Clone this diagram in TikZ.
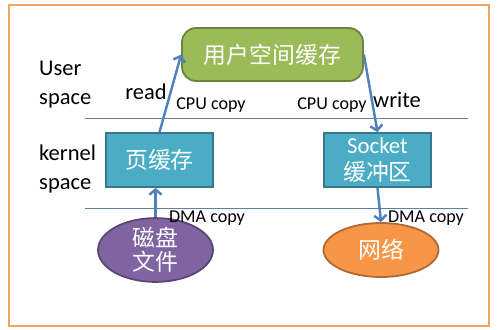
\documentclass[tikz,border=0pt]{standalone}
\usepackage{fontspec}
\setmainfont{Carlito}
\newfontfamily\cjk{Noto Sans CJK SC}
\usetikzlibrary{shapes.geometric,arrows.meta}
\definecolor{frameorange}{RGB}{240,165,96}
\definecolor{usergreen}{RGB}{155,187,89}
\definecolor{kernelteal}{RGB}{75,172,198}
\definecolor{diskpurple}{RGB}{128,100,162}
\definecolor{netorange}{RGB}{247,150,70}
\definecolor{flowblue}{RGB}{79,129,189}
\definecolor{sepline}{RGB}{96,128,160}
\begin{document}
\begin{tikzpicture}[x=0.02cm, y=-0.02cm,
    buf/.style={draw=#1!70!black, fill=#1, line width=1pt, text=white,
        font=\cjk\fontsize{13}{15}\selectfont, align=center, inner sep=0pt,
        minimum width=2.14cm, minimum height=1.08cm},
    dev/.style={buf=#1, ellipse, minimum width=2.3cm, minimum height=1.08cm,
        font=\cjk\fontsize{13}{13.6}\selectfont},
    flow/.style={draw=flowblue, line width=1.4pt, -{Straight Barb[length=3pt,width=7pt]}},
    side/.style={font=\fontsize{12.8}{16.5}\selectfont, align=left, anchor=west},
    op/.style={font=\fontsize{12.8}{15}\selectfont},
    copytag/.style={font=\fontsize{10.3}{12}\selectfont}]
    % Frame
    \useasboundingbox (0,0) rectangle (499,329);
    \draw[frameorange, line width=1.4pt] (9,5) rectangle (489,326);

    % Space boundaries
    \draw[sepline, line width=0.5pt] (85,118) -- (468,118);
    \draw[sepline, line width=0.5pt] (85,208) -- (468,208);
    \node[side] (user) at (33,85) {User\\space};
    \node[side] (kernel) at (33,169) {kernel\\space};

    % Buffers
    \node[buf=usergreen, rounded corners=8pt, minimum width=3.62cm, minimum height=1.06cm] (ucache) at (272.5,54.5) {用户空间缓存};
    \node[buf=kernelteal] (page) at (159.5,160) {页缓存};
    \node[buf=kernelteal] (sock) at (377.5,160) {{\rmfamily Socket}\\缓冲区};

    % Devices
    \node[dev=diskpurple] (disk) at (155.5,250) {磁盘\\文件};
    \node[dev=netorange] (net) at (381,250) {网络};

    % Data path
    \draw[flow] (disk.north) -- (disk.north |- page.south);
    \draw[flow] (page.north) -- (ucache.west);
    \draw[flow] (ucache.east) -- (sock.north);
    \draw[flow] (sock.south) -- (net.north);

    % Labels
    \node[op] (read) at (146,92) {read};
    \node[op] (write) at (397,100) {write};
    \node[copytag] (cpuread) at (211,105) {CPU copy};
    \node[copytag] (cpuwrite) at (332,105) {CPU copy};
    \node[copytag] (dmaread) at (207,218) {DMA copy};
    \node[copytag] (dmawrite) at (426,218) {DMA copy};
\end{tikzpicture}
\end{document}
